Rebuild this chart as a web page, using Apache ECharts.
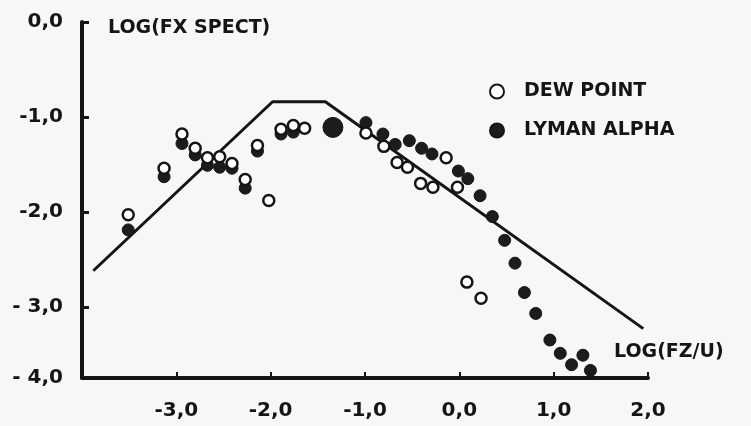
<!DOCTYPE html>
<html>
<head>
<meta charset="utf-8">
<script src="https://cdn.jsdelivr.net/npm/echarts@6/dist/echarts.min.js"></script>
<style>
html,body{margin:0;padding:0;background:#f7f7f7;}
#c{width:751px;height:426px;}
</style>
</head>
<body>
<div id="c"></div>
<script>
// ---- data ----
// NOTE on the y axis: in the hand-drawn reference the ticks 0,-1,-2,-3 are evenly
// spaced (~95 px per unit), but the x axis is drawn at about -3.75 on that scale,
// not at -4 (the original plot squeezed the bottom). Values below are read against
// the -1/-2/-3 ticks, so the y axis runs from -3.75 to 0, and the label at its bottom
// end copies the reference's "- 4,0" text even though that point is really about -3.75.
const dewPoint = [
  [-3.51,-2.03],[-3.13,-1.54],[-2.94,-1.18],[-2.80,-1.33],[-2.67,-1.43],[-2.54,-1.42],
  [-2.41,-1.49],[-2.27,-1.66],[-2.14,-1.30],[-2.02,-1.88],[-1.89,-1.13],[-1.76,-1.09],
  [-1.64,-1.12],[-0.99,-1.17],[-0.80,-1.31],[-0.66,-1.48],[-0.55,-1.53],[-0.41,-1.70],
  [-0.28,-1.74],[-0.14,-1.43],[-0.02,-1.74],[0.08,-2.74],[0.23,-2.91]
];
const lymanAlpha = [
  [-3.51,-2.19],[-3.13,-1.63],[-2.94,-1.28],[-2.80,-1.40],[-2.67,-1.51],[-2.54,-1.53],
  [-2.41,-1.54],[-2.27,-1.75],[-2.14,-1.36],[-1.89,-1.18],[-1.76,-1.16],[-0.99,-1.06],
  [-0.81,-1.18],[-0.68,-1.29],[-0.53,-1.25],[-0.40,-1.33],[-0.29,-1.39],[-0.01,-1.57],
  [0.09,-1.65],[0.22,-1.83],[0.35,-2.05],[0.48,-2.30],[0.59,-2.54],[0.69,-2.85],
  [0.81,-3.07],[0.96,-3.35],[1.07,-3.49],[1.19,-3.61],[1.31,-3.51],[1.39,-3.67]
];
const lymanAlphaCluster = [[-1.34,-1.11]];
const modelCurve = [[-3.88,-2.62],[-1.98,-0.84],[-1.42,-0.84],[1.95,-3.23]];

const xTickValues = [-3,-2,-1,0,1,2];
const xTickLabels = ['-3,0','-2,0','-1,0','0,0','1,0','2,0'];
const yTickValues = [0,-1,-2,-3,-4];
const yTickLabels = ['0,0','-1,0','-2,0','- 3,0','- 4,0'];
const xAxisTitle = 'LOG(FZ/U)';
const yAxisTitle = 'LOG(FX SPECT)';
const seriesNames = ['DEW POINT','LYMAN ALPHA'];

// ---- chart ----
const ink = '#151515';
const font = 'DejaVu Sans';
const chart = echarts.init(document.getElementById('c'), null, {renderer:'canvas'});
chart.setOption({
  backgroundColor:'#f7f7f7',
  animation:false,
  grid:{left:82,right:103,top:22,bottom:48,outerBoundsMode:'none'},
  legend:{
    data:seriesNames, orient:'vertical', left:484, top:77,
    itemWidth:14, itemHeight:14, itemGap:20, icon:'circle',
    textStyle:{fontFamily:font,fontWeight:'bold',fontSize:19,color:ink,padding:[0,0,0,15]}
  },
  xAxis:{
    type:'value', min:-4, max:2, interval:1,
    splitLine:{show:false},
    axisLine:{onZero:false,lineStyle:{color:ink,width:4}},
    axisTick:{inside:true,length:6,lineStyle:{color:ink,width:2}},
    axisLabel:{showMinLabel:false, margin:23, fontFamily:font, fontWeight:'bold', fontSize:20, color:ink,
      formatter:v=>{const i=xTickValues.indexOf(Math.round(v));return i<0?'':xTickLabels[i];}},
    name:xAxisTitle, nameLocation:'end', nameGap:-34,
    nameTextStyle:{fontFamily:font,fontWeight:'bold',fontSize:19,color:ink,align:'left',verticalAlign:'bottom',padding:[0,0,16,0]}
  },
  yAxis:{
    type:'value', min:-3.75, max:0, minInterval:1, maxInterval:1,
    splitLine:{show:false},
    axisLine:{onZero:false,lineStyle:{color:ink,width:4}},
    axisTick:{inside:true,length:7,lineStyle:{color:ink,width:3}},
    axisLabel:{margin:19, fontFamily:font, fontWeight:'bold', fontSize:20, color:ink,
      formatter:v=>{const i=yTickValues.indexOf(Math.round(v));return i<0?'':yTickLabels[i];}},
    name:yAxisTitle, nameLocation:'end', nameGap:-6,
    nameTextStyle:{fontFamily:font,fontWeight:'bold',fontSize:19,color:ink,align:'left',verticalAlign:'middle',padding:[0,0,0,26]}
  },
  series:[
    {type:'line', name:'model', data:modelCurve, showSymbol:false, symbol:'none',
      lineStyle:{color:ink,width:3}, z:1, silent:true},
    {type:'scatter', name:seriesNames[1], data:lymanAlpha, symbol:'circle', symbolSize:12,
      itemStyle:{color:'#1c1c1c',borderColor:ink,borderWidth:1,opacity:1}, z:2},
    {type:'scatter', name:seriesNames[1], data:lymanAlphaCluster, symbol:'circle', symbolSize:20,
      itemStyle:{color:'#1c1c1c',borderColor:ink,borderWidth:1,opacity:1}, z:2},
    {type:'scatter', name:seriesNames[0], data:dewPoint, symbol:'circle', symbolSize:11,
      itemStyle:{color:'#ffffff',borderColor:ink,borderWidth:2.5,opacity:1}, z:3}
  ]
});
</script>
</body>
</html>
